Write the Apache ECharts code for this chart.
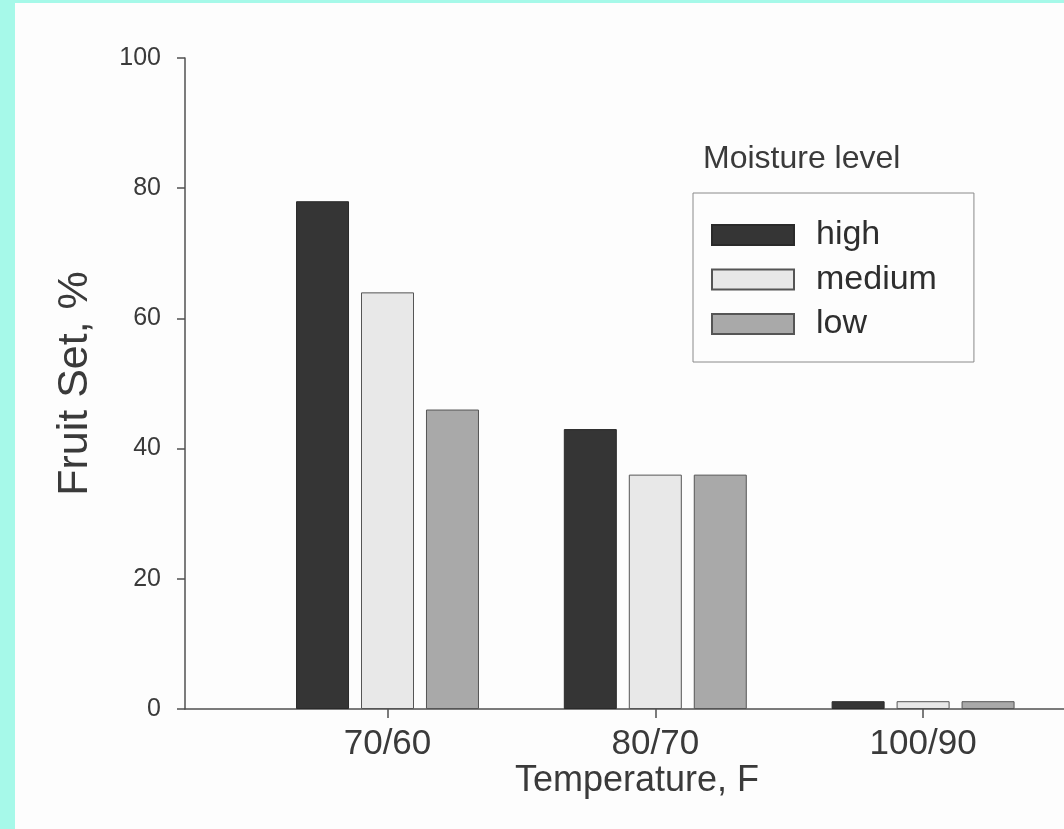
<!DOCTYPE html>
<html>
<head>
<meta charset="utf-8">
<script src="https://cdn.jsdelivr.net/npm/echarts@6/dist/echarts.min.js"></script>
<style>
html,body{margin:0;padding:0;background:#a6f9e9;width:1064px;height:829px;overflow:hidden;}
#chart{position:absolute;left:15px;top:3px;width:1049px;height:826px;background:#fdfdfd;}
</style>
</head>
<body>
<div id="chart"></div>
<script>
const categories = ['70/60', '80/70', '100/90'];
const seriesNames = ['high', 'medium', 'low'];
const highValues = [78, 43, 1.2];
const mediumValues = [64, 36, 1.2];
const lowValues = [46, 36, 1.2];
const yTicks = [0, 20, 40, 60, 80, 100];

const FONT = "'Liberation Sans', Arial, Helvetica, sans-serif";
const TXT = '#3a3a3a';
const AX = '#505050';

const chart = echarts.init(document.getElementById('chart'), null, {renderer: 'canvas'});

const fills = ['#353535', '#e8e8e8', '#a9a9a9'];
const borders = ['#2a2a2a', '#555555', '#555555'];
const values = [highValues, mediumValues, lowValues];

const option = {
  animation: false,
  backgroundColor: '#fdfdfd',
  grid: [
    {left: 238.6, right: 7, top: 55, bottom: 120},
    {left: 170, right: 0, top: 55, bottom: 120}
  ],
  xAxis: [
    {
      gridIndex: 0, type: 'category', data: categories,
      axisLine: {show: false},
      axisTick: {show: true, alignWithLabel: true, length: 9, lineStyle: {color: AX, width: 1.5}},
      axisLabel: {color: TXT, fontFamily: FONT, fontSize: 35, margin: 18}
    },
    {
      gridIndex: 1, type: 'value', min: 0, max: 1,
      axisLine: {show: true, lineStyle: {color: AX, width: 1.5}},
      axisTick: {show: false}, axisLabel: {show: false}, splitLine: {show: false}
    }
  ],
  yAxis: [
    {gridIndex: 0, type: 'value', min: 0, max: 100, show: false},
    {
      gridIndex: 1, type: 'value', min: yTicks[0], max: yTicks[yTicks.length - 1], interval: 20,
      name: 'Fruit Set, %', nameLocation: 'middle', nameGap: 88,
      nameTextStyle: {color: TXT, fontFamily: FONT, fontSize: 43},
      axisLine: {show: true, lineStyle: {color: AX, width: 1.5}},
      axisTick: {show: true, length: 8, lineStyle: {color: AX, width: 1.5}},
      axisLabel: {color: TXT, fontFamily: FONT, fontSize: 25, margin: 24},
      splitLine: {show: false}
    }
  ],
  legend: {
    data: seriesNames,
    orient: 'vertical',
    left: 678, top: 190,
    itemWidth: 82, itemHeight: 20, itemGap: 10.5,
    padding: [25, 37, 21, 18],
    borderColor: '#8a8a8a', borderWidth: 1,
    textStyle: {color: '#2e2e2e', fontFamily: FONT, fontSize: 34, padding: [0, 0, 0, 17]},
    icon: 'rect'
  },
  graphic: [
    {type: 'text', left: 688, top: 140, style: {text: 'Moisture level', fill: TXT, font: "32px 'Liberation Sans', Arial, sans-serif"}},
    {type: 'text', left: 500, top: 760, style: {text: 'Temperature, F', fill: TXT, font: "36px 'Liberation Sans', Arial, sans-serif"}}
  ],
  series: seriesNames.map((n, i) => ({
    name: n, type: 'bar', xAxisIndex: 0, yAxisIndex: 0,
    data: values[i],
    barWidth: 53, barGap: '22.6%',
    itemStyle: {color: fills[i], borderColor: borders[i], borderWidth: 1}
  }))
};
chart.setOption(option);
</script>
</body>
</html>
